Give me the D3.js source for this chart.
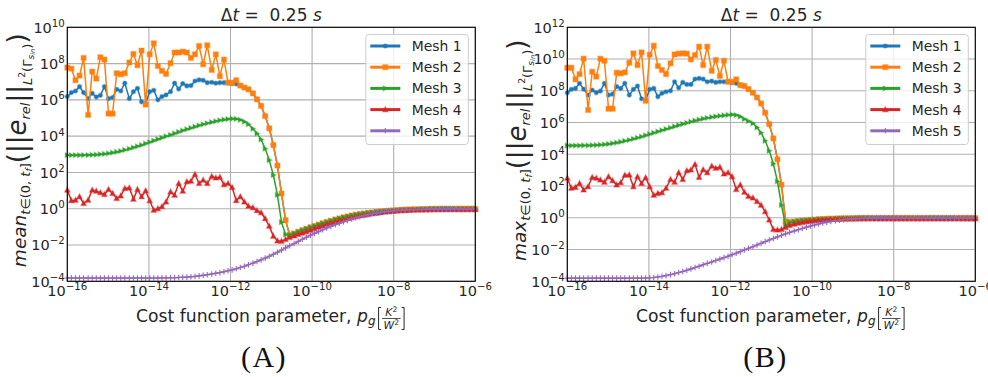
<!DOCTYPE html>
<html>
<head>
<meta charset="utf-8">
<script src="https://cdn.jsdelivr.net/npm/d3@7"></script>
<style>
  body { margin: 0; background: #fff; }
  svg { font-family: "DejaVu Sans", sans-serif; }
</style>
</head>
<body>
<svg id="chart" width="988" height="377"></svg>
<script>
// exponents of the cost function parameter p_g (x axis, log10)
const pgExp = [-16.00,-15.90,-15.80,-15.70,-15.60,-15.49,-15.39,-15.29,-15.19,-15.09,
  -14.99,-14.89,-14.79,-14.69,-14.59,-14.48,-14.38,-14.28,-14.18,-14.08,
  -13.98,-13.88,-13.78,-13.68,-13.58,-13.47,-13.37,-13.27,-13.17,-13.07,
  -12.97,-12.87,-12.77,-12.67,-12.57,-12.46,-12.36,-12.26,-12.16,-12.06,
  -11.96,-11.86,-11.76,-11.66,-11.56,-11.45,-11.35,-11.25,-11.15,-11.05,
  -10.95,-10.85,-10.75,-10.65,-10.55,-10.44,-10.34,-10.24,-10.14,-10.04,
  -9.94,-9.84,-9.74,-9.64,-9.54,-9.43,-9.33,-9.23,-9.13,-9.03,
  -8.93,-8.83,-8.73,-8.63,-8.53,-8.42,-8.32,-8.22,-8.12,-8.02,
  -7.92,-7.82,-7.72,-7.62,-7.52,-7.41,-7.31,-7.21,-7.11,-7.01,
  -6.91,-6.81,-6.71,-6.61,-6.51,-6.40,-6.30,-6.20,-6.10,-6.00];

// (A) mean error, log10 values
const meanMesh1 = [6.18,6.40,6.49,6.73,6.40,6.07,6.36,6.16,6.25,6.73,
  6.07,6.13,6.58,6.49,6.92,6.07,6.45,6.64,5.89,5.81,
  6.45,6.53,6.00,6.18,6.27,6.45,6.92,6.60,6.90,6.77,
  6.79,7.04,7.10,7.08,6.95,6.97,6.92,6.95,6.95,6.93,
  6.90,6.88,6.79,6.68,6.58,6.36,6.03,5.67,5.11,4.43,
  3.51,2.38,0.84,-0.63,-1.45,-1.37,-1.28,-1.19,-1.11,-1.03,
  -0.96,-0.88,-0.81,-0.74,-0.67,-0.60,-0.54,-0.48,-0.43,-0.38,
  -0.34,-0.30,-0.27,-0.24,-0.21,-0.18,-0.16,-0.14,-0.12,-0.10,
  -0.09,-0.07,-0.06,-0.05,-0.04,-0.04,-0.03,-0.03,-0.02,-0.02,
  -0.02,-0.01,-0.01,-0.01,-0.01,-0.01,-0.01,-0.01,-0.01,-0.01];
const meanMesh2 = [7.78,7.72,7.08,7.34,8.31,5.17,7.56,7.17,8.35,8.22,
  5.24,5.24,7.47,7.41,7.47,8.06,8.53,7.91,8.72,5.74,
  8.51,9.12,7.87,7.60,7.43,8.02,8.61,8.61,8.66,8.61,
  8.31,8.51,8.97,7.96,9.01,7.65,8.51,7.30,8.22,6.95,
  6.95,7.08,6.79,6.68,6.58,6.36,6.03,5.67,5.11,4.43,
  3.51,2.38,0.84,-0.63,-1.45,-1.37,-1.28,-1.19,-1.11,-1.03,
  -0.96,-0.88,-0.81,-0.74,-0.67,-0.60,-0.54,-0.48,-0.43,-0.38,
  -0.34,-0.30,-0.27,-0.24,-0.21,-0.18,-0.16,-0.14,-0.12,-0.10,
  -0.09,-0.07,-0.06,-0.05,-0.04,-0.04,-0.03,-0.03,-0.02,-0.02,
  -0.02,-0.01,-0.01,-0.01,-0.01,-0.01,-0.01,-0.01,-0.01,-0.01];
const meanMesh3 = [2.95,2.95,2.95,2.95,2.96,2.96,2.97,2.98,3.00,3.02,
  3.05,3.09,3.13,3.18,3.24,3.30,3.37,3.44,3.51,3.59,
  3.67,3.75,3.83,3.91,3.99,4.07,4.15,4.23,4.31,4.38,
  4.45,4.52,4.59,4.65,4.71,4.77,4.82,4.87,4.91,4.94,
  4.96,4.95,4.90,4.80,4.66,4.41,4.15,3.82,3.31,2.68,
  1.86,0.76,-0.74,-1.42,-1.45,-1.37,-1.28,-1.19,-1.11,-1.03,
  -0.96,-0.88,-0.81,-0.74,-0.67,-0.60,-0.54,-0.48,-0.43,-0.38,
  -0.34,-0.30,-0.27,-0.24,-0.21,-0.18,-0.16,-0.14,-0.12,-0.10,
  -0.09,-0.07,-0.06,-0.05,-0.04,-0.04,-0.03,-0.03,-0.02,-0.02,
  -0.02,-0.01,-0.01,-0.01,-0.01,-0.01,-0.01,-0.01,-0.01,-0.01];
const meanMesh4 = [1.03,0.44,0.47,0.66,0.29,0.47,1.03,0.97,0.88,0.79,
  1.06,0.84,0.57,0.71,1.12,1.15,0.53,1.06,0.66,0.99,
  0.44,-0.08,0.00,0.11,0.38,0.93,0.75,1.39,0.97,1.49,
  1.52,1.89,1.39,1.58,1.40,1.78,1.70,1.74,1.33,1.39,
  1.17,0.45,0.66,0.38,0.14,0.06,-0.10,-0.22,-0.54,-0.96,
  -1.51,-1.77,-1.79,-1.69,-1.58,-1.50,-1.42,-1.34,-1.26,-1.18,
  -1.10,-1.02,-0.94,-0.87,-0.80,-0.73,-0.66,-0.60,-0.54,-0.49,
  -0.44,-0.39,-0.35,-0.31,-0.27,-0.24,-0.21,-0.18,-0.16,-0.14,
  -0.12,-0.10,-0.09,-0.08,-0.07,-0.06,-0.06,-0.05,-0.05,-0.04,
  -0.04,-0.04,-0.04,-0.04,-0.04,-0.04,-0.04,-0.04,-0.04,-0.04];
const meanMesh5 = [-3.82,-3.82,-3.82,-3.82,-3.82,-3.82,-3.82,-3.82,-3.82,-3.82,
  -3.82,-3.82,-3.82,-3.82,-3.82,-3.82,-3.82,-3.82,-3.82,-3.82,
  -3.82,-3.82,-3.82,-3.81,-3.81,-3.80,-3.80,-3.79,-3.78,-3.77,
  -3.75,-3.73,-3.70,-3.67,-3.64,-3.60,-3.56,-3.52,-3.47,-3.42,
  -3.37,-3.31,-3.24,-3.17,-3.09,-3.00,-2.91,-2.82,-2.72,-2.62,
  -2.51,-2.40,-2.28,-2.16,-2.04,-1.92,-1.80,-1.68,-1.57,-1.46,
  -1.36,-1.26,-1.16,-1.06,-0.97,-0.88,-0.80,-0.72,-0.64,-0.57,
  -0.50,-0.44,-0.38,-0.33,-0.28,-0.24,-0.20,-0.17,-0.14,-0.12,
  -0.10,-0.08,-0.07,-0.06,-0.05,-0.04,-0.04,-0.03,-0.02,-0.02,
  -0.02,-0.02,-0.02,-0.02,-0.02,-0.02,-0.02,-0.02,-0.02,-0.02];

// (B) max error, log10 values
const maxMesh1 = [7.88,8.09,8.15,8.47,8.11,7.73,8.05,7.88,7.98,8.47,
  7.73,7.79,8.26,8.15,8.47,7.73,8.09,8.30,7.50,7.42,
  8.09,8.15,7.63,7.84,7.94,8.00,8.57,8.19,8.53,8.40,
  8.40,8.74,8.78,8.74,8.57,8.61,8.53,8.57,8.57,8.57,
  8.51,8.47,8.36,8.30,8.11,7.88,7.58,7.21,6.62,5.90,
  5.00,3.68,2.08,-0.22,-0.27,-0.24,-0.21,-0.18,-0.16,-0.14,
  -0.12,-0.10,-0.09,-0.08,-0.07,-0.06,-0.05,-0.04,-0.04,-0.03,
  -0.03,-0.02,-0.02,-0.02,-0.02,-0.02,-0.02,-0.02,-0.02,-0.02,
  -0.02,-0.02,-0.02,-0.02,-0.02,-0.02,-0.02,-0.02,-0.02,-0.02,
  -0.02,-0.02,-0.02,-0.02,-0.02,-0.02,-0.02,-0.02,-0.02,-0.02];
const maxMesh2 = [9.45,9.45,8.72,9.05,10.02,6.79,9.20,8.89,10.02,9.89,
  6.87,6.87,9.14,9.10,9.16,9.77,10.36,9.62,10.42,7.37,
  10.27,10.84,9.56,9.31,9.05,9.73,10.29,10.34,10.36,10.34,
  9.98,10.25,10.78,9.62,10.78,9.26,9.94,8.93,9.89,8.57,
  8.57,8.72,8.36,8.30,8.11,7.88,7.58,7.21,6.62,5.90,
  5.00,3.68,2.08,-0.22,-0.27,-0.24,-0.21,-0.18,-0.16,-0.14,
  -0.12,-0.10,-0.09,-0.08,-0.07,-0.06,-0.05,-0.04,-0.04,-0.03,
  -0.03,-0.02,-0.02,-0.02,-0.02,-0.02,-0.02,-0.02,-0.02,-0.02,
  -0.02,-0.02,-0.02,-0.02,-0.02,-0.02,-0.02,-0.02,-0.02,-0.02,
  -0.02,-0.02,-0.02,-0.02,-0.02,-0.02,-0.02,-0.02,-0.02,-0.02];
const maxMesh3 = [4.55,4.55,4.55,4.55,4.56,4.56,4.57,4.58,4.60,4.62,
  4.65,4.69,4.73,4.78,4.84,4.90,4.97,5.04,5.11,5.19,
  5.27,5.35,5.43,5.51,5.59,5.67,5.75,5.83,5.91,5.98,
  6.05,6.12,6.18,6.24,6.29,6.34,6.38,6.42,6.45,6.48,
  6.50,6.47,6.38,6.22,6.09,5.95,5.69,5.36,4.85,4.22,
  3.40,2.30,0.80,-0.50,-0.30,-0.25,-0.21,-0.18,-0.16,-0.14,
  -0.12,-0.10,-0.09,-0.08,-0.07,-0.06,-0.05,-0.04,-0.04,-0.03,
  -0.03,-0.02,-0.02,-0.02,-0.02,-0.02,-0.02,-0.02,-0.02,-0.02,
  -0.02,-0.02,-0.02,-0.02,-0.02,-0.02,-0.02,-0.02,-0.02,-0.02,
  -0.02,-0.02,-0.02,-0.02,-0.02,-0.02,-0.02,-0.02,-0.02,-0.02];
const maxMesh4 = [2.49,1.86,1.92,2.17,1.75,1.96,2.55,2.49,2.38,2.24,
  2.59,2.34,2.07,2.21,2.68,2.70,1.96,2.59,2.17,2.53,
  1.96,1.42,1.54,1.58,1.86,2.42,2.24,2.84,2.42,2.97,
  3.01,3.37,2.55,3.03,2.84,3.26,3.12,3.19,2.76,2.84,
  2.59,1.79,2.07,1.62,1.35,1.25,1.03,0.80,0.38,-0.14,
  -0.73,-0.77,-0.73,-0.61,-0.48,-0.40,-0.34,-0.29,-0.25,-0.21,
  -0.18,-0.15,-0.13,-0.11,-0.10,-0.09,-0.08,-0.07,-0.06,-0.06,
  -0.05,-0.05,-0.05,-0.05,-0.05,-0.05,-0.05,-0.05,-0.05,-0.05,
  -0.05,-0.05,-0.05,-0.05,-0.05,-0.05,-0.05,-0.05,-0.05,-0.05,
  -0.05,-0.05,-0.05,-0.05,-0.05,-0.05,-0.05,-0.05,-0.05,-0.05];
const maxMesh5 = [-3.80,-3.80,-3.80,-3.80,-3.80,-3.80,-3.80,-3.80,-3.80,-3.80,
  -3.80,-3.80,-3.80,-3.80,-3.80,-3.80,-3.80,-3.80,-3.80,-3.79,
  -3.78,-3.76,-3.73,-3.69,-3.64,-3.58,-3.52,-3.45,-3.38,-3.30,
  -3.22,-3.13,-3.05,-2.96,-2.87,-2.78,-2.69,-2.60,-2.51,-2.42,
  -2.33,-2.23,-2.13,-2.02,-1.92,-1.82,-1.71,-1.61,-1.50,-1.40,
  -1.30,-1.20,-1.10,-1.01,-0.92,-0.83,-0.75,-0.67,-0.59,-0.52,
  -0.45,-0.39,-0.33,-0.28,-0.23,-0.19,-0.15,-0.12,-0.09,-0.07,
  -0.05,-0.04,-0.03,-0.02,-0.02,-0.02,-0.02,-0.02,-0.02,-0.02,
  -0.02,-0.02,-0.02,-0.02,-0.02,-0.02,-0.02,-0.02,-0.02,-0.02,
  -0.02,-0.02,-0.02,-0.02,-0.02,-0.02,-0.02,-0.02,-0.02,-0.02];

const meshNames = ["Mesh 1", "Mesh 2", "Mesh 3", "Mesh 4", "Mesh 5"];
const meshColors = ["#1f77b4", "#ff7f0e", "#2ca02c", "#d62728", "#9467bd"];
const meshMarkers = ["point", "square", "triright", "triup", "plus"];
const xTickExp = [-16, -14, -12, -10, -8, -6];
const meanTickExp = [-4, -2, 0, 2, 4, 6, 8, 10];
const maxTickExp = [-4, -2, 0, 2, 4, 6, 8, 10, 12];

const svg = d3.select("#chart");
const MINUS = "\u2212";

// one marker; the light edge imitates the soft halo of the original markers
function drawMarker(g, type, color, cx, cy) {
    let m;
    if (type == "point") {
        m = g.append("circle").attr("cx", cx).attr("cy", cy).attr("r", 2.1).attr("fill", color);
    } else if (type == "square") {
        m = g.append("rect").attr("x", cx - 2.5).attr("y", cy - 2.5).attr("width", 5).attr("height", 5).attr("fill", color);
    } else if (type == "triup") {
        m = g.append("path").attr("d", `M${cx},${cy - 2.9}L${cx + 2.7},${cy + 2.1}L${cx - 2.7},${cy + 2.1}Z`).attr("fill", color);
    } else if (type == "triright") {
        m = g.append("path").attr("d", `M${cx + 2.5},${cy}L${cx - 2},${cy - 2.4}L${cx - 2},${cy + 2.4}Z`).attr("fill", color);
    } else {
        g.append("path").attr("d", `M${cx - 2.8},${cy}H${cx + 2.8}M${cx},${cy - 2.8}V${cy + 2.8}`)
            .attr("stroke", color).attr("stroke-width", 1.1).attr("fill", "none");
        return;
    }
    m.attr("stroke", color).attr("stroke-opacity", 0.35).attr("stroke-width", 1.4);
}

function powLabel(t, exp, baseSize, supSize, supRaise) {
    t.append("tspan").attr("font-size", baseSize).text("10");
    t.append("tspan").attr("font-size", supSize).attr("dy", -supRaise)
        .text(exp < 0 ? MINUS + Math.abs(exp) : String(exp));
}

function drawPanel(o) {
    const g = svg.append("g");
    const x = d3.scaleLog().domain([1e-16, 1e-6]).range([o.left, o.right]);
    const y = d3.scaleLog().domain([1e-4, o.yMax]).range([o.bottom, o.top]);

    // grid
    g.selectAll(".gx").data(xTickExp).enter().append("line")
        .attr("x1", d => x(Math.pow(10, d))).attr("x2", d => x(Math.pow(10, d)))
        .attr("y1", o.top).attr("y2", o.bottom)
        .attr("stroke", "#b0b0b0").attr("stroke-width", 1.1);
    g.selectAll(".gy").data(o.yTicks).enter().append("line")
        .attr("x1", o.left).attr("x2", o.right)
        .attr("y1", d => y(Math.pow(10, d))).attr("y2", d => y(Math.pow(10, d)))
        .attr("stroke", "#b0b0b0").attr("stroke-width", 1.1);

    // series
    const line = d3.line();
    o.series.forEach((vals, k) => {
        const pts = vals.map((v, i) => [x(Math.pow(10, pgExp[i])), y(Math.pow(10, v))]);
        g.append("path").attr("d", line(pts)).attr("fill", "none")
            .attr("stroke", meshColors[k]).attr("stroke-width", 1.5).attr("stroke-linejoin", "round");
        const mg = g.append("g");
        pts.forEach(p => drawMarker(mg, meshMarkers[k], meshColors[k], p[0], p[1]));
    });

    // frame
    g.append("rect").attr("x", o.left).attr("y", o.top)
        .attr("width", o.right - o.left).attr("height", o.bottom - o.top)
        .attr("fill", "none").attr("stroke", "#000").attr("stroke-width", 1.1);

    // tick labels
    xTickExp.forEach(e => {
        const t = g.append("text").attr("x", x(Math.pow(10, e))).attr("y", o.bottom + 14.5)
            .attr("text-anchor", "middle").attr("fill", "#262626");
        powLabel(t, e, 14.5, 10.2, 5.8);
    });
    o.yTicks.forEach(e => {
        const t = g.append("text").attr("x", o.left - 2.5).attr("y", y(Math.pow(10, e)) + 5.2)
            .attr("text-anchor", "end").attr("fill", "#262626");
        powLabel(t, e, 14.5, 10.2, 5.8);
    });

    // title
    const cx = (o.left + o.right) / 2;
    const tt = g.append("text").attr("x", cx).attr("y", 21).attr("text-anchor", "middle")
        .attr("font-size", 17).attr("fill", "#262626").style("white-space", "pre");
    tt.append("tspan").text("\u0394");
    tt.append("tspan").attr("font-style", "italic").text("t");
    tt.append("tspan").text(" =  0.25 ");
    tt.append("tspan").attr("font-style", "italic").text("s");

    // y label
    const yl = g.append("text")
        .attr("transform", `translate(${o.left - 41},${(o.top + o.bottom) / 2 - 4}) rotate(-90)`)
        .attr("text-anchor", "middle").attr("font-size", 18.5).attr("fill", "#262626");
    yl.append("tspan").attr("font-style", "italic").text(o.stat);
    yl.append("tspan").attr("font-size", 13).attr("dy", 4).attr("font-style", "italic").text("t");
    yl.append("tspan").attr("font-size", 13).text("\u2208(0, ");
    yl.append("tspan").attr("font-size", 13).attr("font-style", "italic").text("t");
    yl.append("tspan").attr("font-size", 9.2).attr("dy", 2).attr("font-style", "italic").text("f");
    yl.append("tspan").attr("font-size", 13).attr("dy", -2).text("]");
    yl.append("tspan").attr("font-size", 26).attr("dy", -4).text("(||");
    yl.append("tspan").attr("font-size", 26).attr("font-style", "italic").text("e");
    yl.append("tspan").attr("font-size", 13).attr("dy", 4).attr("font-style", "italic").text("rel");
    yl.append("tspan").attr("font-size", 26).attr("dy", -4).text("||");
    yl.append("tspan").attr("font-size", 13).attr("dy", 5.5).attr("font-style", "italic").text("L");
    yl.append("tspan").attr("font-size", 9.2).attr("dy", -6.5).text("2");
    yl.append("tspan").attr("font-size", 13).attr("dy", 6.5).text("(\u0393");
    yl.append("tspan").attr("font-size", 9.2).attr("dy", 2).attr("font-style", "italic").text("s");
    yl.append("tspan").attr("font-size", 6.7).attr("dy", 1.5).attr("font-style", "italic").text("in");
    yl.append("tspan").attr("font-size", 13).attr("dy", -3.5).text(")");
    yl.append("tspan").attr("font-size", 26).attr("dy", -5.5).text(")");

    // x label
    const xl = g.append("text").attr("y", 321.5).attr("font-size", 17.2).attr("fill", "#262626");
    xl.append("tspan").text("Cost function parameter, ");
    xl.append("tspan").attr("font-style", "italic").text("p");
    xl.append("tspan").attr("font-style", "italic").attr("font-size", 12).attr("dy", 3).text("g");
    const mainW = xl.node().getComputedTextLength();
    const fracW = 31;
    const x0 = cx - (mainW + fracW) / 2;
    xl.attr("x", x0);
    const fx = x0 + mainW;
    g.append("path")
        .attr("d", `M${fx + 5.5},307.5H${fx + 3}V329.5H${fx + 5.5}M${fx + 26},307.5H${fx + 28.5}V329.5H${fx + 26}`)
        .attr("fill", "none").attr("stroke", "#262626").attr("stroke-width", 1);
    g.append("line").attr("x1", fx + 6.5).attr("x2", fx + 25).attr("y1", 318.5).attr("y2", 318.5)
        .attr("stroke", "#262626").attr("stroke-width", 0.8);
    const kt = g.append("text").attr("x", fx + 15.7).attr("y", 316).attr("text-anchor", "middle")
        .attr("font-size", 10.8).attr("fill", "#262626");
    kt.append("tspan").attr("font-style", "italic").text("K");
    kt.append("tspan").attr("font-size", 7.6).attr("dy", -4).text("2");
    const wt = g.append("text").attr("x", fx + 15.7).attr("y", 328.5).attr("text-anchor", "middle")
        .attr("font-size", 10.8).attr("fill", "#262626");
    wt.append("tspan").attr("font-style", "italic").text("W");
    wt.append("tspan").attr("font-size", 7.6).attr("dy", -4).text("2");

    // legend
    const lg = g.append("g");
    lg.append("rect").attr("x", o.right - 109.5).attr("y", 34.5).attr("width", 102.5).attr("height", 110)
        .attr("rx", 3).attr("fill", "#fff").attr("fill-opacity", 0.8)
        .attr("stroke", "#cccccc").attr("stroke-width", 1);
    meshNames.forEach((name, k) => {
        const ly = 46 + k * 21.2;
        lg.append("line").attr("x1", o.right - 105).attr("x2", o.right - 75).attr("y1", ly).attr("y2", ly)
            .attr("stroke", meshColors[k]).attr("stroke-width", 3);
        drawMarker(lg, meshMarkers[k], meshColors[k], o.right - 90, ly);
        lg.append("text").attr("x", o.right - 63.5).attr("y", ly + 5).attr("font-size", 13.9)
            .attr("fill", "#262626").text(name);
    });

    // panel letter
    svg.append("text").attr("x", o.letterX).attr("y", 367).attr("text-anchor", "middle")
        .attr("font-family", "'Liberation Serif', 'DejaVu Serif', serif").attr("font-size", 30)
        .attr("letter-spacing", 1.5).attr("fill", "#111").text(o.letter);
}

drawPanel({
    left: 67.3, right: 475.3, top: 27.3, bottom: 281.3, yMax: 1e10,
    yTicks: meanTickExp, stat: "mean", letter: "(A)", letterX: 264,
    series: [meanMesh1, meanMesh2, meanMesh3, meanMesh4, meanMesh5]
});
drawPanel({
    left: 567.3, right: 975.3, top: 27.3, bottom: 281.3, yMax: 1e12,
    yTicks: maxTickExp, stat: "max", letter: "(B)", letterX: 765.5,
    series: [maxMesh1, maxMesh2, maxMesh3, maxMesh4, maxMesh5]
});
</script>
</body>
</html>
